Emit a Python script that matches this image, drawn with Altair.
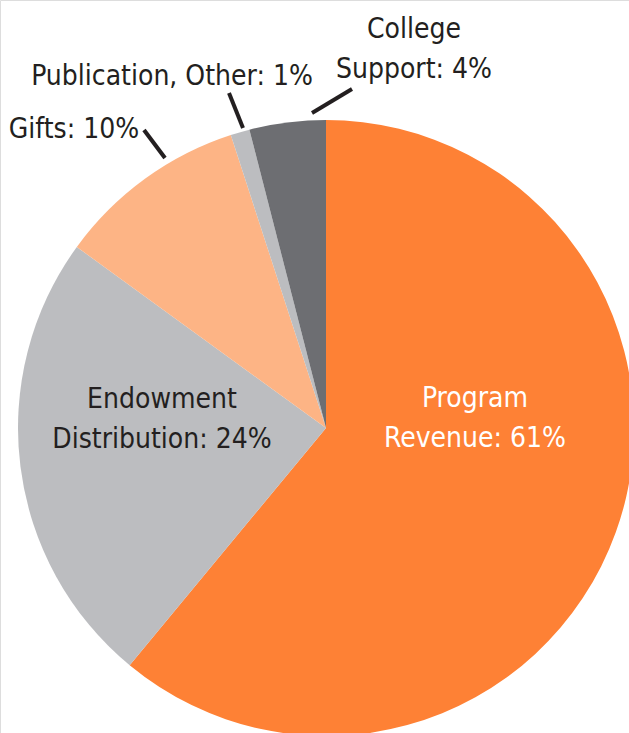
import altair as alt
import pandas as pd

# ---- data ----
categories = ["Program Revenue", "Endowment Distribution", "Gifts",
              "Publication, Other", "College Support"]
shares = [61, 24, 10, 1, 4]
slice_colors = ["#FE8135", "#BCBDC0", "#FDB485", "#BCBDC0", "#6D6E72"]
label_lines = [["Program", "Revenue: 61%"],
               ["Endowment", "Distribution: 24%"],
               ["Gifts: 10%"],
               ["Publication, Other: 1%"],
               ["College", "Support: 4%"]]

# ---- layout (pixels) ----
W, H = 629, 733
CX, CY, R = 326, 428, 308
label_x = [475, 162, 74, 172, 414]
label_y = [407, 408, 138, 85, 38]
label_color = ["#FFFFFF", "#231F20", "#231F20", "#231F20", "#231F20"]
lead_x1 = [None, None, 165, 243, 312]
lead_y1 = [None, None, 158, 128, 113]
lead_x2 = [None, None, 144, 229, 352]
lead_y2 = [None, None, 130, 93, 89]

FONT = "Liberation Sans Narrow, DejaVu Sans Condensed, Arial Narrow, sans-serif"

pie_df = pd.DataFrame({"category": categories, "share": shares,
                       "order": list(range(len(categories)))})
lab_df = pd.DataFrame({"category": categories, "text": label_lines,
                       "x": label_x, "y": label_y, "tc": label_color})
lead_df = pd.DataFrame({"category": categories, "x": lead_x1, "y": lead_y1,
                        "x2": lead_x2, "y2": lead_y2}).dropna()

xs = alt.Scale(domain=[0, W], nice=False, zero=False)
ys = alt.Scale(domain=[0, H], nice=False, zero=False, reverse=True)

pie = alt.Chart(pie_df).mark_arc(radius=R).encode(
    theta=alt.Theta("share:Q", stack=True),
    order=alt.Order("order:Q"),
    color=alt.Color("category:N", legend=None,
                    scale=alt.Scale(domain=categories, range=slice_colors)),
    x=alt.value(CX),
    y=alt.value(CY),
)

labels = alt.Chart(lab_df).mark_text(
    font=FONT, fontSize=28, lineHeight=40, align="center", baseline="alphabetic"
).encode(
    x=alt.X("x:Q", scale=xs, axis=None),
    y=alt.Y("y:Q", scale=ys, axis=None),
    text="text",
    color=alt.Color("tc:N", scale=None),
)

leads = alt.Chart(lead_df).mark_rule(strokeWidth=4, color="#231F20").encode(
    x=alt.X("x:Q", scale=xs, axis=None),
    y=alt.Y("y:Q", scale=ys, axis=None),
    x2="x2:Q",
    y2="y2:Q",
)

chart = alt.layer(pie, leads, labels).properties(
    width=W, height=H, padding=0, autosize=alt.AutoSizeParams(type="none")
).configure_view(stroke=None).configure(background="white")

chart.save("out.html", embed_options={"renderer": "svg", "actions": False})
